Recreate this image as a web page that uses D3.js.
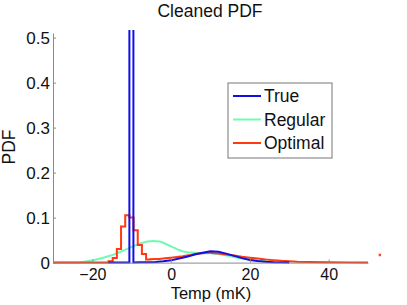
<!DOCTYPE html>
<html><head><meta charset="utf-8">
<script src="https://cdn.jsdelivr.net/npm/d3@7"></script>
<style>body{margin:0;background:#fff}svg{display:block}text{font-family:"Liberation Sans",Arial,sans-serif;fill:#111}</style>
</head><body>
<script>
// ---- data ----
const xTicks = [-20, 0, 20, 40];
const yTicks = [0, 0.1, 0.2, 0.3, 0.4, 0.5];
const seriesNames = ["True", "Regular", "Optimal"];
const seriesColors = ["#1010e6", "#70fab4", "#ff3a10"];

// True: step spike then smooth bump
const trueX = [-15.9, -10.6, -10.6, -9.58, -9.58, -8, -6, -4, -2, 0, 2, 4, 6, 8, 10, 12, 14, 16, 18, 20, 22, 24, 26, 28, 30];
const trueY = [0, 0, 0.6, 0.6, 0.0005, 0.0008, 0.001, 0.0015, 0.003, 0.005, 0.009, 0.013, 0.018, 0.022, 0.025, 0.024, 0.020, 0.015, 0.010, 0.006, 0.0035, 0.002, 0.001, 0.0005, 0.0002];

// Regular: smooth curve
const regX = [-30, -24, -22, -20, -18, -16, -14, -12, -10, -8, -6, -4.5, -3, -2, -1, 0, 1, 2, 3, 4, 6, 8, 10, 12, 14, 16, 18, 20, 22, 24, 26, 28, 30];
const regY = [0, 0, 0.002, 0.005, 0.009, 0.014, 0.020, 0.027, 0.035, 0.042, 0.047, 0.048, 0.047, 0.044, 0.040, 0.036, 0.032, 0.028, 0.025, 0.023, 0.022, 0.021, 0.021, 0.019, 0.016, 0.012, 0.009, 0.0065, 0.004, 0.0025, 0.0012, 0.0005, 0];

// Optimal: histogram bins then smooth tail
const optLeadX = [-30, -15.9];
const optLeadY = [0, 0];
const optBinEdges = [-15.9, -14.84, -13.78, -12.72, -11.66, -10.6, -9.54, -8.48, -7.42, -6.36, -5.3];
const optBinHeights = [0.003, 0.01, 0.03, 0.08, 0.105, 0.10, 0.072, 0.039, 0.019, 0.007];
const optTailX = [-5.3, -4, -3, -2, -1, 0, 1, 2, 3, 4, 5, 6, 7, 8, 9, 10, 11, 12, 14, 16, 18, 20, 22, 24, 26, 28, 30, 32, 35, 40, 45, 50];
const optTailY = [0.0075, 0.008, 0.008, 0.009, 0.010, 0.011, 0.012, 0.013, 0.014, 0.016, 0.017, 0.019, 0.020, 0.021, 0.022, 0.022, 0.021, 0.020, 0.018, 0.016, 0.013, 0.011, 0.009, 0.007, 0.0055, 0.004, 0.003, 0.002, 0.0015, 0.001, 0.0005, 0.0002];

// stray marker
const markerX = [53];
const markerY = [0.017];

// ---- layout ----
const W = 407, H = 305;
const svg = d3.select("body").append("svg").attr("width", W).attr("height", H);
const x = d3.scaleLinear().domain([-30, 50]).range([53, 368]);
const y = d3.scaleLinear().domain([0, 0.51]).range([262.6, 33.1]);

svg.append("defs").append("clipPath").attr("id", "clip")
  .append("rect").attr("x", 40).attr("y", 30).attr("width", 340).attr("height", 240);

const line = d3.line().x(d => x(d[0])).y(d => y(d[1]));
const smooth = d3.line().x(d => x(d[0])).y(d => y(d[1])).curve(d3.curveMonotoneX);

const truePts = trueX.map((v, i) => [v, trueY[i]]);
const regPts = regX.map((v, i) => [v, regY[i]]);
const optPts = optLeadX.map((v, i) => [v, optLeadY[i]]);
optBinHeights.forEach((h, i) => { optPts.push([optBinEdges[i], h]); optPts.push([optBinEdges[i + 1], h]); });
optTailX.forEach((v, i) => optPts.push([v, optTailY[i]]));

const g = svg.append("g").attr("clip-path", "url(#clip)");
g.append("path").attr("d", smooth(regPts)).attr("fill", "none").attr("stroke", seriesColors[1]).attr("stroke-width", 2);
g.append("path").attr("d", line(optPts)).attr("fill", "none").attr("stroke", seriesColors[2]).attr("stroke-width", 2).attr("stroke-linejoin", "miter");
g.append("path").attr("d", line(truePts)).attr("fill", "none").attr("stroke", seriesColors[0]).attr("stroke-width", 2);

// axes
const axCol = "#8a8a8a";
const xAxis = svg.append("g").attr("transform", `translate(0,${y(0)})`)
  .call(d3.axisBottom(x).tickValues(xTicks).tickSizeInner(-3).tickSizeOuter(0).tickPadding(8).tickFormat(d3.format("d")));
const yAxis = svg.append("g").attr("transform", `translate(${x(-30)},0)`)
  .call(d3.axisLeft(y).tickValues(yTicks).tickSizeInner(-3).tickSizeOuter(0).tickPadding(3).tickFormat(d => d === 0 ? "0" : d3.format(".1f")(d)));
[xAxis, yAxis].forEach(a => {
  a.select(".domain").attr("stroke", axCol);
  a.selectAll(".tick line").attr("stroke", axCol);
  a.selectAll(".tick text").attr("font-size", 17).attr("font-family", "Liberation Sans, Arial, sans-serif").attr("fill", "#111");
});
xAxis.selectAll(".tick text").attr("font-size", 16).attr("dy", "0.6em");

// marker
svg.selectAll(".mk").data(markerX).enter().append("path")
  .attr("transform", (d, i) => `translate(${x(d)},${y(markerY[i])})`)
  .attr("d", d3.symbol(d3.symbolAsterisk, 6)())
  .attr("stroke", seriesColors[2]).attr("stroke-width", 1).attr("fill", "none");

// titles
svg.append("text").attr("x", 210).attr("y", 17).attr("text-anchor", "middle").attr("font-size", 17.5).text("Cleaned PDF");
svg.append("text").attr("x", 211).attr("y", 299).attr("text-anchor", "middle").attr("font-size", 16.5).text("Temp (mK)");
svg.append("text").attr("transform", "translate(15,147) rotate(-90)").attr("text-anchor", "middle").attr("font-size", 17.5).text("PDF");

// legend
const lg = svg.append("g");
lg.append("rect").attr("x", 228).attr("y", 83).attr("width", 104).attr("height", 75)
  .attr("fill", "#fff").attr("stroke", "#777").attr("stroke-width", 1);
const rowY = [96, 119.5, 143];
seriesNames.forEach((n, i) => {
  lg.append("line").attr("x1", 233).attr("x2", 261).attr("y1", rowY[i]).attr("y2", rowY[i])
    .attr("stroke", seriesColors[i]).attr("stroke-width", 2);
  lg.append("text").attr("x", 264).attr("y", rowY[i]).attr("dy", "0.36em").attr("font-size", 17.5).text(n);
});
</script>
</body></html>
